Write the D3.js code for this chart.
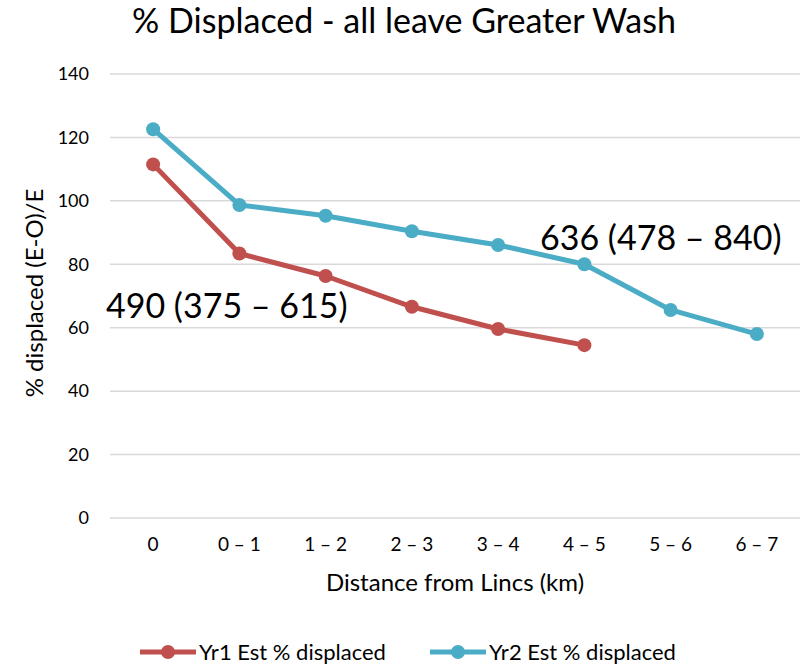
<!DOCTYPE html>
<html>
<head>
<meta charset="utf-8">
<script src="https://cdn.jsdelivr.net/npm/d3@7"></script>
<style>
  body { margin: 0; background: #fff; }
  text { font-family: Lato, "Open Sans", sans-serif; fill: #000; }
</style>
</head>
<body>
<div id="chart"></div>
<script>
const categories = ['0', '0 – 1', '1 – 2', '2 – 3', '3 – 4', '4 – 5', '5 – 6', '6 – 7']
const yr1 = [111.5, 83.4, 76.3, 66.6, 59.6, 54.5]
const yr2 = [122.6, 98.7, 95.3, 90.4, 86.1, 80.0, 65.6, 58.0]
const yTicks = [0, 20, 40, 60, 80, 100, 120, 140]
const seriesNames = ['Yr1 Est % displaced', 'Yr2 Est % displaced']
const annotations = ['490 (375 – 615)', '636 (478 – 840)']

const width = 804
const height = 665
const margin = { top: 74, right: 4, bottom: 148, left: 110 }
const colors = ['#C0504D', '#4BACC6']

const svg = d3.select('#chart')
  .append('svg')
  .attr('width', width)
  .attr('height', height)

// scales
const xScale = d3.scaleBand()
  .domain(categories)
  .range([margin.left, width - margin.right])

const yScale = d3.scaleLinear()
  .domain([0, 140])
  .range([height - margin.bottom + 1, margin.top])

// gridlines
svg.append('g')
  .selectAll('line')
  .data(yTicks)
  .join('line')
    .attr('x1', margin.left)
    .attr('x2', width - margin.right)
    .attr('y1', d => yScale(d))
    .attr('y2', d => yScale(d))
    .attr('stroke', '#d9d9d9')
    .attr('stroke-width', 1.5)

// y axis labels
const yAxis = svg.append('g')
  .attr('transform', `translate(${margin.left}, 0)`)
  .call(d3.axisLeft(yScale).tickValues(yTicks).tickSize(0).tickPadding(21))
yAxis.select('.domain').remove()
yAxis.selectAll('text').style('font-size', '18px').style('font-family', 'Lato, sans-serif')

// x axis labels
const xAxis = svg.append('g')
  .attr('transform', `translate(0, ${yScale(0)})`)
  .call(d3.axisBottom(xScale).tickSize(0).tickPadding(20))
xAxis.select('.domain').remove()
xAxis.selectAll('text').style('font-size', '19px').style('font-family', 'Lato, sans-serif')

// lines
const line = d3.line()
  .x((d, i) => xScale(categories[i]) + xScale.bandwidth() / 2)
  .y(d => yScale(d))

;[yr1, yr2].forEach(function(values, s) {
  svg.append('path')
    .datum(values)
    .attr('fill', 'none')
    .attr('stroke', colors[s])
    .attr('stroke-width', 5)
    .attr('stroke-linejoin', 'round')
    .attr('d', line)

  svg.append('g')
    .selectAll('circle')
    .data(values)
    .join('circle')
      .attr('cx', (d, i) => xScale(categories[i]) + xScale.bandwidth() / 2)
      .attr('cy', d => yScale(d))
      .attr('r', 7)
      .attr('fill', colors[s])
})

// title
svg.append('text')
  .attr('x', 404)
  .attr('y', 33)
  .attr('text-anchor', 'middle')
  .style('font-size', '34px')
  .text('% Displaced - all leave Greater Wash')

// axis titles
svg.append('text')
  .attr('transform', 'translate(43, 293) rotate(-90)')
  .attr('text-anchor', 'middle')
  .style('font-size', '24px')
  .text('% displaced (E-O)/E')

svg.append('text')
  .attr('x', 455)
  .attr('y', 591)
  .attr('text-anchor', 'middle')
  .style('font-size', '24px')
  .text('Distance from Lincs (km)')

// annotations
svg.append('text')
  .attr('x', 106)
  .attr('y', 318)
  .style('font-size', '34px')
  .text(annotations[0])

svg.append('text')
  .attr('x', 540)
  .attr('y', 250)
  .style('font-size', '34px')
  .text(annotations[1])

// legend
const legendX = [140, 430]
seriesNames.forEach(function(name, s) {
  const g = svg.append('g').attr('transform', `translate(${legendX[s]}, 652)`)
  g.append('line')
    .attr('x1', 0).attr('x2', 56)
    .attr('stroke', colors[s])
    .attr('stroke-width', 5)
  g.append('circle')
    .attr('cx', 28)
    .attr('r', 7)
    .attr('fill', colors[s])
  g.append('text')
    .attr('x', 59)
    .attr('y', 8)
    .style('font-size', '22px')
    .text(name)
})
</script>
</body>
</html>
